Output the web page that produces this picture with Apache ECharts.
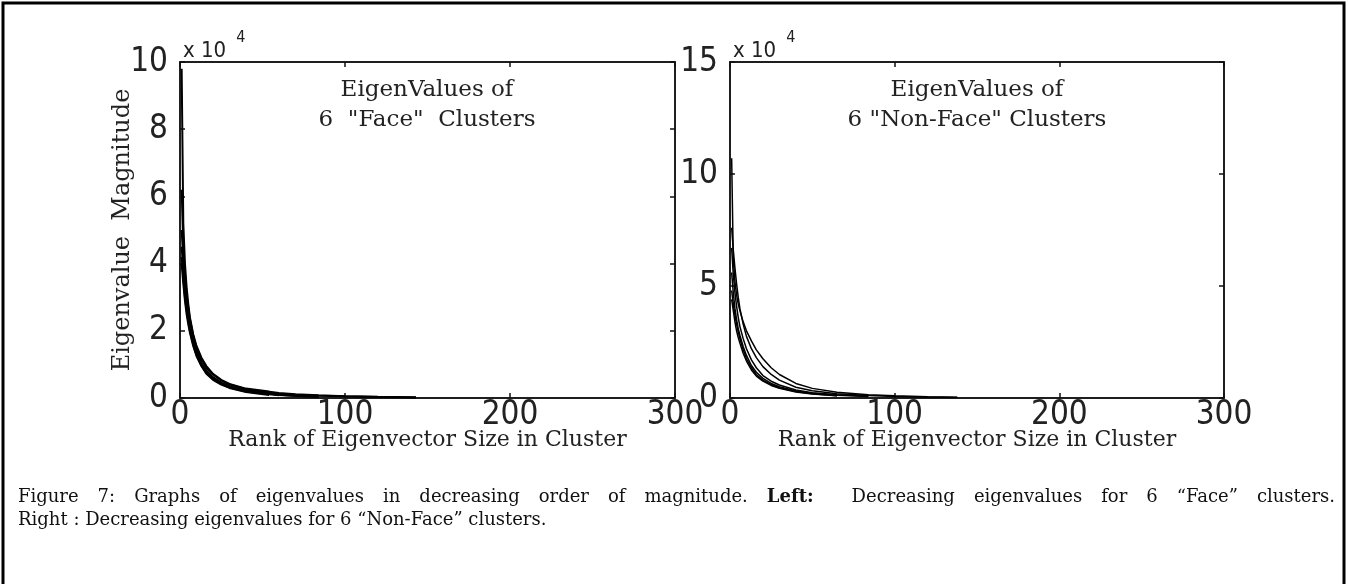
<!DOCTYPE html>
<html>
<head>
<meta charset="utf-8">
<script src="https://cdn.jsdelivr.net/npm/echarts@6/dist/echarts.min.js"></script>
<style>
html,body{margin:0;padding:0;background:#fff;}
#chart{width:1348px;height:584px;}
</style>
</head>
<body>
<div id="chart"></div>
<script>
// ---- data ----
var faceRanks = [1,2,3,4,5,6,8,10,13,16,20,25,30,40,54,60,70,84,100,120,143];
var faceA = [98000,52000,40000,33000,28000,24000,19000,15500,12000,9500,7200,5400,4200,2800,1900,1500,1100,800,550,350,200];
var faceB = [62000,45000,37000,31000,27000,23500,18500,15000,11500,9000,7000,5200,4000,2600,1700,1300,1000,700,500,300,180];
var faceC = [50000,41000,34000,29000,25000,22000,17500,14000,10500,8200,6200,4600,3500,2200,1400,1000,700,400];
var faceD = [45000,38000,32000,27500,24000,21000,16500,13000,9800,7600,5700,4200,3200,2000,1300,900,600,380];
var faceE = [40000,34000,29000,25000,22000,19500,15500,12500,9500,7200,5400,4000,3000,1800,900];
var faceF = [42000,36000,30000,26000,23000,20000,16000,12800,9600,7400,5600,4200,3100,1900,1100,800];

var nonFaceRanks = [1,2,3,4,5,6,8,10,13,16,20,25,30,40,50,65,84,100,120,138];
var nonFaceA = [107000,62000,52000,46000,42000,39000,34000,30000,25500,21500,17500,13500,10500,6500,4300,2600,1500,1000,600,300];
var nonFaceB = [76000,66000,58000,51000,45000,40000,33000,27500,22000,18000,14000,10500,8000,4800,3200,1900,1100,700,400,200];
var nonFaceC = [67000,55000,47000,41000,36000,32000,26500,22000,17000,13500,10000,7500,5800,3600,2400,1400,800];
var nonFaceD = [56000,47000,40000,35000,31000,28000,23000,19000,14500,11500,8800,6500,5000,3100,2100,1200,700];
var nonFaceE = [48000,42000,37000,33000,29500,26500,21500,17500,13500,10500,8000,6000,4600,2900,1900,1000];
var nonFaceF = [44000,39000,34000,30000,27000,24500,20000,16500,12500,9800,7500,5600,4300,2700,1800,950];

var xTicks = [0,100,200,300];
var faceYTicks = [0,2,4,6,8,10];
var nonFaceYTicks = [0,5,10,15];
var scaleExp = 4;

var titleFace = ['EigenValues of', '6  "Face"  Clusters'];
var titleNonFace = ['EigenValues of', '6 "Non-Face" Clusters'];
var xName = 'Rank of Eigenvector Size in Cluster';
var yName = 'Eigenvalue  Magnitude';
var capLine1 = ['Figure','7:','Graphs','of','eigenvalues','in','decreasing','order','of','magnitude.','**Left:','Decreasing','eigenvalues','for','6','\u201cFace\u201d','clusters.'];
var capLine2 = 'Right : Decreasing eigenvalues for 6 \u201cNon-Face\u201d clusters.';

// ---- build ----
function pairs(ranks, vals){ return vals.map(function(v,i){ return [ranks[i], v]; }); }

var tickFont = "'Liberation Sans Narrow','DejaVu Sans Condensed','Liberation Sans',sans-serif";
var serif = "'DejaVu Serif',serif";
var capFont = "'DejaVu Serif',serif";
var capSize = 18;

var grids = [
  {left:180, top:62, width:495, height:336, show:true, borderColor:'#111', borderWidth:1.5, backgroundColor:'transparent'},
  {left:730, top:62, width:494, height:336, show:true, borderColor:'#111', borderWidth:1.5, backgroundColor:'transparent'}
];

function xAxes(gi, showLabel, pos){
  return {
    type:'value', gridIndex:gi, position:pos, min:0, max:300, interval:100,
    axisLine:{show:true, onZero:false, lineStyle:{color:'#111', width:1.5}},
    axisTick:{show:true, inside:true, length:5, lineStyle:{color:'#111', width:1.5}},
    splitLine:{show:false},
    axisLabel:{show:showLabel, margin:1, fontFamily:tickFont, fontSize:33, color:'#222',
      formatter:function(v){ return xTicks.indexOf(v) >= 0 ? String(v) : ''; }},
    name: showLabel ? xName : '', nameLocation:'middle', nameGap:31, nameMoveOverlap:false,
    nameTextStyle:{fontFamily:serif, fontSize:22, color:'#222'}
  };
}
function yAxes(gi, showLabel, pos, maxV, step, ticks, withName){
  return {
    type:'value', gridIndex:gi, position:pos, min:0, max:maxV, interval:step,
    axisLine:{show:true, onZero:false, lineStyle:{color:'#111', width:1.5}},
    axisTick:{show:true, inside:true, length:5, lineStyle:{color:'#111', width:1.5}},
    splitLine:{show:false},
    axisLabel:{show:showLabel, margin:12, fontFamily:tickFont, fontSize:33, color:'#222',
      padding:[0,0,8,0],
      formatter:function(v){ var t = v/Math.pow(10,scaleExp); return ticks.indexOf(t) >= 0 ? String(t) : ''; }},
    name: withName ? yName : '', nameLocation:'middle', nameGap:45, nameRotate:90, nameMoveOverlap:false,
    nameTextStyle:{fontFamily:serif, fontSize:24, color:'#222'}
  };
}

function lineSeries(data, xi, yi, w){
  return {type:'line', xAxisIndex:xi, yAxisIndex:yi, data:data, showSymbol:false,
    symbol:'none', lineStyle:{color:'#000', width:w}, silent:true, animation:false, clip:true};
}

var series = [];
[faceA,faceB,faceC,faceD,faceE,faceF].forEach(function(s){ series.push(lineSeries(pairs(faceRanks,s),0,0,2)); });
[nonFaceA,nonFaceB,nonFaceC,nonFaceD,nonFaceE,nonFaceF].forEach(function(s){ series.push(lineSeries(pairs(nonFaceRanks,s),2,2,1.5)); });
// empty series so the mirrored (top/right) axes take part in the layout
series.push({type:'line', xAxisIndex:1, yAxisIndex:1, data:[], silent:true});
series.push({type:'line', xAxisIndex:3, yAxisIndex:3, data:[], silent:true});

var chart = echarts.init(document.getElementById('chart'), null, {renderer:'canvas'});

function expLabel(x){
  return {type:'text', left:x, top:30, style:{
    text:'{b|x 10}{s|' + scaleExp + '}', fill:'#222',
    rich:{ b:{fontFamily:tickFont, fontSize:22, fill:'#222', verticalAlign:'bottom'},
           s:{fontFamily:tickFont, fontSize:16, fill:'#222', verticalAlign:'top', padding:[0,0,16,10]} }
  }};
}
function titleText(cx, lines){
  return {type:'text', x:cx, y:75, style:{text:lines.join('\n'), textAlign:'center',
    fontFamily:serif, fontSize:23, lineHeight:30, fill:'#222'}};
}

// justified caption line 1 (words spread between the left and right margins)
function captionWords(words, x0, x1, y){
  var cv = document.createElement('canvas').getContext('2d');
  var items = words.map(function(w){
    var bold = w.indexOf('**') === 0; var t = bold ? w.slice(2) : w;
    cv.font = (bold ? 'bold ' : '') + capSize + 'px ' + capFont;
    return {t:t, bold:bold, w:cv.measureText(t).width};
  });
  var total = items.reduce(function(a,b){ return a + b.w; }, 0);
  var gaps = 0; items.forEach(function(it,i){ if(i < items.length-1) gaps += (it.bold ? 2 : 1); });
  var unit = (x1 - x0 - total) / gaps;
  var x = x0, out = [];
  items.forEach(function(it,i){
    out.push({type:'text', x:x, y:y, style:{text:it.t, fontFamily:capFont, fontSize:capSize,
      fontWeight: it.bold ? 'bold' : 'normal', fill:'#111', verticalAlign:'middle'}});
    x += it.w + unit * (it.bold ? 2 : 1);
  });
  return out;
}

var graphics = [
  {type:'polyline', shape:{points:[[3,584],[3,3],[1344,3],[1344,584]]}, style:{stroke:'#000', lineWidth:3, fill:null}},
  expLabel(183), expLabel(733),
  titleText(427, titleFace), titleText(977, titleNonFace),
  {type:'text', x:18, y:520, style:{text:capLine2, fontFamily:capFont, fontSize:capSize, fill:'#111', verticalAlign:'middle'}}
].concat(captionWords(capLine1, 18, 1335, 497));

chart.setOption({
  animation:false,
  grid: grids,
  xAxis: [xAxes(0,true,'bottom'), xAxes(0,false,'top'), xAxes(1,true,'bottom'), xAxes(1,false,'top')],
  yAxis: [yAxes(0,true,'left',100000,20000,faceYTicks,true), yAxes(0,false,'right',100000,20000,faceYTicks,false),
          yAxes(1,true,'left',150000,50000,nonFaceYTicks,false), yAxes(1,false,'right',150000,50000,nonFaceYTicks,false)],
  series: series,
  graphic: graphics
});
</script>
</body>
</html>
